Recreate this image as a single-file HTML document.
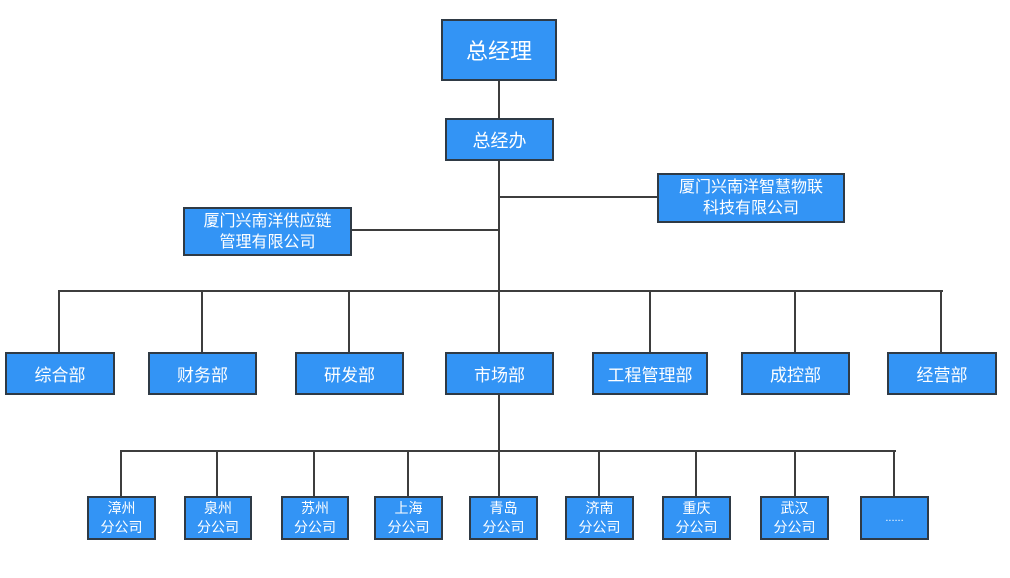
<!DOCTYPE html>
<html><head><meta charset="utf-8"><style>
body{margin:0;width:1010px;height:578px;background:#fff;position:relative;overflow:hidden;font-family:"Liberation Sans","Noto Sans CJK SC",sans-serif}
.b{position:absolute;box-sizing:border-box;background:#3394f5;border:2px solid #2f3a45;color:#fff;display:flex;align-items:center;justify-content:center;text-align:center}
.l{position:absolute;background:#3d3d3d}
</style></head><body>
<!-- lines -->
<div class="l" style="left:498px;top:80px;width:2px;height:372px"></div>
<div class="l" style="left:498px;top:196px;width:160px;height:2px"></div>
<div class="l" style="left:350px;top:229px;width:150px;height:2px"></div>
<div class="l" style="left:58px;top:290px;width:885px;height:2px"></div>
<div class="l" style="left:58px;top:290px;width:2px;height:62px"></div>
<div class="l" style="left:201px;top:290px;width:2px;height:62px"></div>
<div class="l" style="left:348px;top:290px;width:2px;height:62px"></div>
<div class="l" style="left:649px;top:290px;width:2px;height:62px"></div>
<div class="l" style="left:794px;top:290px;width:2px;height:62px"></div>
<div class="l" style="left:940px;top:290px;width:2px;height:62px"></div>
<div class="l" style="left:120px;top:450px;width:776px;height:2px"></div>
<div class="l" style="left:120px;top:450px;width:2px;height:46px"></div>
<div class="l" style="left:216px;top:450px;width:2px;height:46px"></div>
<div class="l" style="left:313px;top:450px;width:2px;height:46px"></div>
<div class="l" style="left:407px;top:450px;width:2px;height:46px"></div>
<div class="l" style="left:498px;top:450px;width:2px;height:46px"></div>
<div class="l" style="left:598px;top:450px;width:2px;height:46px"></div>
<div class="l" style="left:695px;top:450px;width:2px;height:46px"></div>
<div class="l" style="left:794px;top:450px;width:2px;height:46px"></div>
<div class="l" style="left:893px;top:450px;width:2px;height:46px"></div>
<!-- boxes -->
<div class="b" style="left:441px;top:19px;width:116px;height:62px;font-size:22px">总经理</div>
<div class="b" style="left:445px;top:118px;width:109px;height:43px;font-size:18px">总经办</div>
<div class="b" style="left:657px;top:173px;width:188px;height:50px;font-size:16px;line-height:21px">厦门兴南洋智慧物联<br>科技有限公司</div>
<div class="b" style="left:183px;top:207px;width:169px;height:49px;font-size:16px;line-height:21px">厦门兴南洋供应链<br>管理有限公司</div>
<div class="b" style="left:5px;top:352px;width:110px;height:43px;font-size:17px">综合部</div>
<div class="b" style="left:148px;top:352px;width:109px;height:43px;font-size:17px">财务部</div>
<div class="b" style="left:295px;top:352px;width:109px;height:43px;font-size:17px">研发部</div>
<div class="b" style="left:445px;top:352px;width:109px;height:43px;font-size:17px">市场部</div>
<div class="b" style="left:592px;top:352px;width:116px;height:43px;font-size:17px">工程管理部</div>
<div class="b" style="left:741px;top:352px;width:109px;height:43px;font-size:17px">成控部</div>
<div class="b" style="left:887px;top:352px;width:110px;height:43px;font-size:17px">经营部</div>
<div class="b" style="left:87px;top:496px;width:69px;height:44px;font-size:14px;line-height:19px">漳州<br>分公司</div>
<div class="b" style="left:184px;top:496px;width:68px;height:44px;font-size:14px;line-height:19px">泉州<br>分公司</div>
<div class="b" style="left:281px;top:496px;width:68px;height:44px;font-size:14px;line-height:19px">苏州<br>分公司</div>
<div class="b" style="left:374px;top:496px;width:69px;height:44px;font-size:14px;line-height:19px">上海<br>分公司</div>
<div class="b" style="left:469px;top:496px;width:69px;height:44px;font-size:14px;line-height:19px">青岛<br>分公司</div>
<div class="b" style="left:565px;top:496px;width:69px;height:44px;font-size:14px;line-height:19px">济南<br>分公司</div>
<div class="b" style="left:662px;top:496px;width:69px;height:44px;font-size:14px;line-height:19px">重庆<br>分公司</div>
<div class="b" style="left:760px;top:496px;width:69px;height:44px;font-size:14px;line-height:19px">武汉<br>分公司</div>
<div class="b" style="left:860px;top:496px;width:69px;height:44px;font-size:11px">......</div>
</body></html>
